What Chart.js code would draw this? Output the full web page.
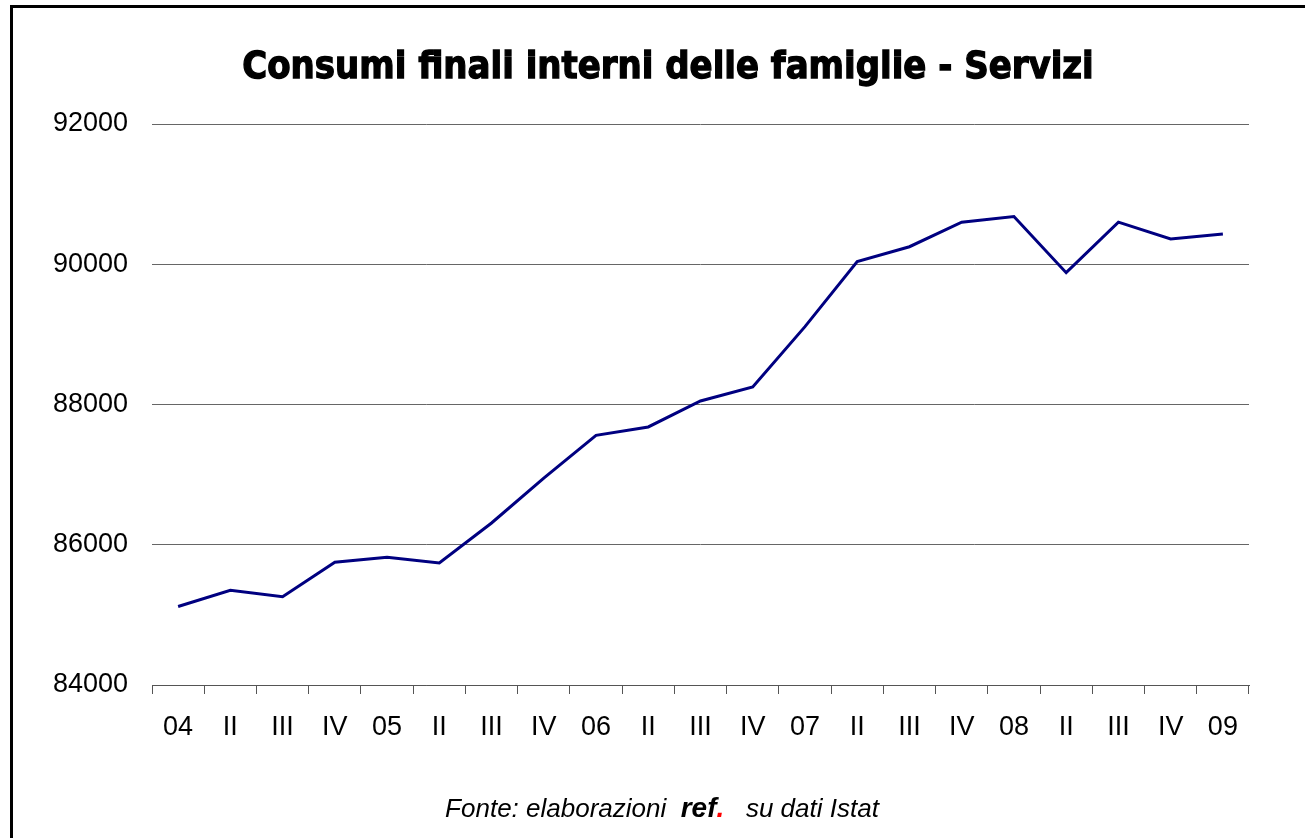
<!DOCTYPE html>
<html>
<head>
<meta charset="utf-8">
<script src="https://cdn.jsdelivr.net/npm/chart.js@4/dist/chart.umd.min.js"></script>
<style>
  html, body { margin: 0; padding: 0; background: #fff; }
  #wrap { width: 1305px; height: 838px; }
</style>
</head>
<body>
<div id="wrap"><canvas id="myChart" width="1305" height="838"></canvas></div>
<script>
var quarters = ['04', 'II', 'III', 'IV', '05', 'II', 'III', 'IV', '06', 'II', 'III', 'IV',
  '07', 'II', 'III', 'IV', '08', 'II', 'III', 'IV', '09'];
var servizi = [85120, 85350, 85260, 85750, 85820, 85740, 86310, 86950, 87560, 87680, 88050, 88250,
  89110, 90040, 90250, 90600, 90680, 89880, 90600, 90360, 90430];
var yTicks = [84000, 86000, 88000, 90000, 92000];

var title = 'Consumi finali interni delle famiglie - Servizi';

// frame, title and source line
var decor = {
  id: 'decor',
  afterDraw: function (chart) {
    var ctx = chart.ctx;
    ctx.save();
    ctx.fillStyle = '#000';
    ctx.fillRect(10, 5, 3, 840);
    ctx.fillRect(10, 5, 1300, 3);

    // heavy title, a bit taller than it is wide
    ctx.font = 'bold 34px "DejaVu Sans"';
    ctx.textAlign = 'center';
    ctx.textBaseline = 'middle';
    ctx.translate(668, 68);
    ctx.scale(1, 1.12);
    ctx.lineWidth = 1.2;
    ctx.strokeStyle = '#000';
    ctx.fillText(title, 0, 0);
    ctx.strokeText(title, 0, 0);
    ctx.setTransform(1, 0, 0, 1, 0, 0);

    var parts = [
      { t: 'Fonte: elaborazioni  ', f: 'italic 26px "Liberation Sans"', c: '#000' },
      { t: 'ref', f: 'italic bold 28px "Liberation Sans"', c: '#000' },
      { t: '.', f: 'italic bold 28px "Liberation Sans"', c: '#ff0000' },
      { t: '   su dati Istat', f: 'italic 26px "Liberation Sans"', c: '#000' }
    ];
    var total = 0;
    parts.forEach(function (p) { ctx.font = p.f; total += ctx.measureText(p.t).width; });
    var x = 662 - total / 2;
    ctx.textAlign = 'left';
    ctx.textBaseline = 'alphabetic';
    parts.forEach(function (p) {
      ctx.font = p.f;
      ctx.fillStyle = p.c;
      ctx.fillText(p.t, x, 817);
      x += ctx.measureText(p.t).width;
    });
    ctx.restore();
  }
};

var ctx = document.getElementById('myChart').getContext('2d');
var myChart = new Chart(ctx, {
  type: 'line',
  data: {
    labels: quarters,
    datasets: [{
      label: 'Servizi',
      data: servizi,
      borderColor: '#000080',
      borderWidth: 3,
      fill: false,
      pointRadius: 0,
      tension: 0
    }]
  },
  options: {
    responsive: false,
    animation: false,
    layout: { padding: { top: 124, left: 0, right: 56, bottom: 93 } },
    plugins: { legend: { display: false }, tooltip: { enabled: false }, title: { display: false } },
    scales: {
      x: {
        offset: true,
        grid: { offset: true, drawOnChartArea: false, tickLength: 9, color: '#555', lineWidth: 1 },
        border: { color: '#555', width: 1 },
        ticks: { color: '#000', font: { family: 'Liberation Sans', size: 27 }, padding: 17, maxRotation: 0, autoSkip: false },
        afterFit: function (scale) { scale.height = 60; }
      },
      y: {
        min: 84000,
        max: 92000,
        afterBuildTicks: function (scale) { scale.ticks = yTicks.map(function (v) { return { value: v }; }); },
        grid: { color: '#666', lineWidth: 1, drawTicks: false },
        border: { display: false },
        ticks: {
          color: '#000', font: { family: 'Liberation Sans', size: 27 }, padding: 24,
          callback: function (v) { return String(v); }
        },
        afterFit: function (scale) { scale.width = 152; }
      }
    }
  },
  plugins: [decor]
});
</script>
</body>
</html>
